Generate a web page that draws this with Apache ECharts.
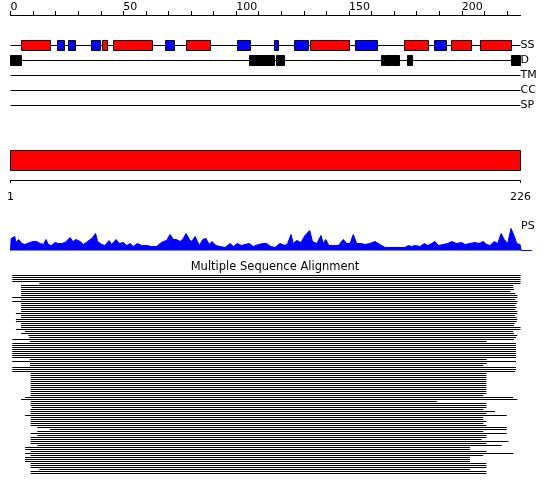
<!DOCTYPE html>
<html><head><meta charset="utf-8">
<script src="https://cdn.jsdelivr.net/npm/echarts@6/dist/echarts.min.js"></script>
<style>html,body{margin:0;padding:0;background:#fff}#c{width:550px;height:495px}</style>
</head><body><div id="c"></div>
<script>
// ---------- data ----------
const seqLength = 226;
const trackNames = ['SS', 'D', 'TM', 'CC', 'SP'];
const helixSegments = [[4.8,17.8],[40.7,43.1],[45.7,63.1],[78.0,88.8],[133.1,150.1],[174.8,185.2],[195.3,204.3],[208.1,222.1]];
const strandSegments = [[20.8,24.1],[25.6,28.9],[35.8,40.0],[68.7,72.8],[100.6,106.2],[116.9,118.7],[126.0,131.9],[153.1,162.8],[188.1,193.2]];
const disorderSegments = [[0,4.9],[106.0,116.9],[117.8,121.3],[164.2,165.2],[165.8,172.5],[176.0,178.0],[221.9,226]];
const topTickValues = [0,10,20,30,40,50,60,70,80,90,100,110,120,130,140,150,160,170,180,190,200,210,220];
const topLabelValues = [0,50,100,150,200];
const domainRange = [0, 226];
const rulerTickValues = [0, 226];
const rulerTickLabels = ['1', '226'];
const psProfile = [[0,0],[0.3,12],[0.7,14],[1.9,14],[2.4,8],[3.6,11],[5,7],[6.4,6],[8.6,8],[10.1,9],[11.6,9],[13.1,7],[14.6,6],[15.7,11],[16.8,6],[18.2,5],[19.7,8],[21.2,7],[22.7,7],[24.2,8],[26.4,13],[27.6,9],[29,11],[30.8,9],[32.3,6],[34.1,9],[36,12],[37.7,17],[38.6,9],[40.4,6],[41.9,5],[43.7,10],[44.8,6],[46.8,11],[48.2,7],[50,8],[51.5,5],[53,7],[54.4,4],[56.2,7],[58.1,5],[60.3,5],[62.6,4],[64.8,4],[66.3,7],[67.7,9],[69.2,10],[70.7,16],[72.2,11],[73.6,11],[75.1,9],[76.3,11],[77.8,17],[79.3,11],[80.3,9],[81.8,14],[83.7,5],[85.2,11],[86.6,12],[88.1,6],[89.2,9],[91.1,5],[92.8,4],[95.1,3],[97.3,7],[98.8,4],[100.5,7],[102.4,5],[103.9,6],[105.8,7],[107.6,4],[109.8,6],[112,7],[113.5,7],[115.3,4],[117.2,3],[119.4,7],[121.6,5],[122.8,7],[124.3,16],[125.3,7],[126.8,10],[128.7,8],[130.5,15],[132.6,20],[133.8,9],[135.7,7],[137.6,15],[138.6,7],[139.7,11],[141.1,5],[143.1,5],[145.3,5],[147.5,11],[149,7],[150.5,7],[151.9,16],[153.4,7],[155.3,7],[157.1,6],[159.3,7],[161.5,9],[163.7,6],[166,3],[168.2,3],[170.4,3],[172.6,3],[174.8,3],[176.3,5],[177.8,4],[179.3,5],[181.5,4],[183.4,7],[184.9,5],[186.6,7],[188.1,9],[189.6,5],[191.8,6],[193.7,7],[195.5,9],[197.7,7],[199.9,8],[201.4,6],[203.6,7],[205.8,8],[207.6,7],[209.5,9],[211,6],[212.5,5],[214.4,9],[215.9,7],[217.4,17],[218.8,11],[220.3,7],[221.8,22],[223.3,14],[224.3,7],[225.8,6],[226.3,0],[231,0]];
const msaStart = [0.8,0.8,0.8,0.8,12.8,4.7,4.7,4.7,4.7,4.7,4.7,0.8,4.7,0.8,4.7,4.7,4.7,4.7,4.7,2.4,
  4.7,4.7,2.4,2.4,4.7,4.7,4.7,2.4,6.4,4.7,7.9,8.3,0.8,8.6,0.8,0.8,0.8,0.8,0.8,0.8,
  0.8,0.8,8.6,0.8,8.6,8.6,0.8,0.8,0.8,8.9,8.9,8.9,8.9,8.9,8.9,8.9,8.9,8.9,8.9,8.9,
  8.9,6.4,4.7,8.9,8.9,8.9,9.4,8.9,8.9,8.9,6.4,8.9,8.9,8.9,8.9,8.9,11.9,17.5,11.9,8.9,
  11.9,8.9,8.9,8.9,8.9,11.9,6.4,6.4,8.9,6.4,8.9,6.4,6.4,6.4,8.9,8.9,8.9,12.8,8.9,8.9];
const msaEnd = [226,226,226,226,226,222.8,222.8,223.1,221.6,223.7,224.6,224.6,223.7,224.6,224.3,223.7,224.3,223.7,224.6,224.6,
  223.7,224.3,224.6,224.3,223.4,223.1,226,226,222.8,223.1,224.6,224,223.1,211,224,224,224,224,224,224,
  224,224,211,224,211,209.5,224,224,223.6,210.9,210.9,210.9,210.9,210.9,210.9,210.9,210.9,210.9,210.9,210.9,
  209.5,222.8,224.6,188.9,210.9,210.9,210.9,209.5,214.7,210.9,219.9,209.5,209.5,210.9,209.5,210.9,219.9,219.9,209.5,219.9,
  210.9,210.9,208.8,220.6,210.9,217.7,203.6,203.6,210.9,222.8,209.5,203.6,203.6,203.6,210.9,210.9,210.9,203.6,210.9,210.9];

// ---------- build ----------
const FONT = 'DejaVu Sans';
const crisp = v => Math.round(v - 0.5) + 0.5;
const trackLineData = trackNames.map((n, i) => [0, seqLength, i]);
const ssData = helixSegments.map(s => [s[0], s[1], 0]).concat(strandSegments.map(s => [s[0], s[1], 1]));
const dData = disorderSegments.map(s => [s[0], s[1]]);
const msaRows = msaStart.map((s, i) => i);
const msaData = msaStart.map((s, i) => [s, msaEnd[i], i]);
const pxPerRes = 510 / seqLength;

const chart = echarts.init(document.getElementById('c'));
chart.setOption({
  animation: false,
  backgroundColor: '#fff',
  title: [
    {text: 'Multiple Sequence Alignment', left: 'center', top: 261, padding: 0,
     textStyle: {fontFamily: FONT, fontSize: 11.5, fontWeight: 'normal', color: '#000'}},
    {text: 'PS', left: 521, top: 221, padding: 0,
     textStyle: {fontFamily: FONT, fontSize: 11, fontWeight: 'normal', color: '#000'}}
  ],
  grid: [
    {left: 10.5, width: 510, top: 38, height: 75},
    {left: 10.5, width: 510, top: 150, height: 30},
    {left: 10.5, width: 231 * pxPerRes, top: 225.5, height: 25},
    {left: 10.5, width: 510, top: 274.5, height: 200}
  ],
  xAxis: [
    {gridIndex: 0, type: 'value', min: 0, max: seqLength, interval: 10, position: 'top', offset: 23,
     axisLine: {show: true, onZero: false, lineStyle: {color: '#000', width: 1}},
     axisTick: {show: true, length: 4, customValues: topTickValues, lineStyle: {color: '#000'}},
     axisLabel: {customValues: topLabelValues, align: 'left', margin: 2, fontFamily: FONT, fontSize: 11, color: '#000'},
     splitLine: {show: false}},
    {gridIndex: 1, type: 'value', min: 0, max: seqLength, position: 'bottom',
     axisLine: {show: true, onZero: false, lineStyle: {color: '#000', width: 1}},
     axisTick: {show: true, length: 3, customValues: rulerTickValues, lineStyle: {color: '#000'}},
     axisLabel: {customValues: rulerTickValues, margin: 12, fontFamily: FONT, fontSize: 11, color: '#000',
       formatter: v => rulerTickLabels[rulerTickValues.indexOf(v)]},
     splitLine: {show: false}},
    {gridIndex: 2, type: 'value', min: 0, max: 231, show: false},
    {gridIndex: 3, type: 'value', min: 0, max: seqLength, show: false}
  ],
  yAxis: [
    {gridIndex: 0, type: 'category', data: trackNames, inverse: true, position: 'right',
     axisLine: {show: false}, axisTick: {show: false},
     axisLabel: {margin: 0, fontFamily: FONT, fontSize: 11, color: '#000'}, splitLine: {show: false}},
    {gridIndex: 1, type: 'value', min: 0, max: 30, inverse: true, show: false},
    {gridIndex: 2, type: 'value', min: 0, max: 25, show: false},
    {gridIndex: 3, type: 'category', data: msaRows, inverse: true, show: false}
  ],
  series: [
    {type: 'custom', xAxisIndex: 0, yAxisIndex: 0, data: trackLineData, silent: true,
     renderItem: (p, api) => {
       const a = api.coord([api.value(0), api.value(2)]);
       const b = api.coord([api.value(1), api.value(2)]);
       return {type: 'line', shape: {x1: crisp(a[0]), y1: a[1], x2: crisp(b[0]), y2: b[1]},
               style: {stroke: '#000', lineWidth: 1}};
     }},
    {type: 'custom', xAxisIndex: 0, yAxisIndex: 0, data: ssData, silent: true,
     renderItem: (p, api) => {
       const a = api.coord([api.value(0), 0]);
       const b = api.coord([api.value(1), 0]);
       const x0 = crisp(a[0]), x1 = crisp(b[0]);
       return {type: 'rect', shape: {x: x0, y: a[1] - 5, width: x1 - x0, height: 10},
               style: {fill: api.value(2) === 0 ? '#ff0000' : '#0000ff', stroke: '#000', lineWidth: 1}};
     }},
    {type: 'custom', xAxisIndex: 0, yAxisIndex: 0, data: dData, silent: true,
     renderItem: (p, api) => {
       const a = api.coord([api.value(0), 1]);
       const b = api.coord([api.value(1), 1]);
       const x0 = crisp(a[0]), x1 = crisp(b[0]);
       return {type: 'rect', shape: {x: x0, y: a[1] - 5, width: x1 - x0, height: 10},
               style: {fill: '#000', stroke: '#000', lineWidth: 1}};
     }},
    {type: 'custom', xAxisIndex: 1, yAxisIndex: 1, data: [domainRange], silent: true,
     renderItem: (p, api) => {
       const a = api.coord([api.value(0), 0]);
       const b = api.coord([api.value(1), 20]);
       return {type: 'rect', shape: {x: crisp(a[0]), y: a[1] + 0.5, width: crisp(b[0]) - crisp(a[0]), height: b[1] - a[1]},
               style: {fill: '#ff0000', stroke: '#000', lineWidth: 1}};
     }},
    {type: 'line', xAxisIndex: 2, yAxisIndex: 2, data: psProfile, symbol: 'none', showSymbol: false, silent: true,
     lineStyle: {color: '#0000ff', width: 1}, areaStyle: {color: '#0000ff', opacity: 1}},
    {type: 'custom', xAxisIndex: 3, yAxisIndex: 3, data: msaData, silent: true,
     renderItem: (p, api) => {
       const a = api.coord([api.value(0), api.value(2)]);
       const b = api.coord([api.value(1), api.value(2)]);
       return {type: 'rect', shape: {x: a[0], y: a[1] - 0.5, width: b[0] - a[0], height: 1},
               style: {fill: '#000'}};
     }}
  ]
});
</script></body></html>
